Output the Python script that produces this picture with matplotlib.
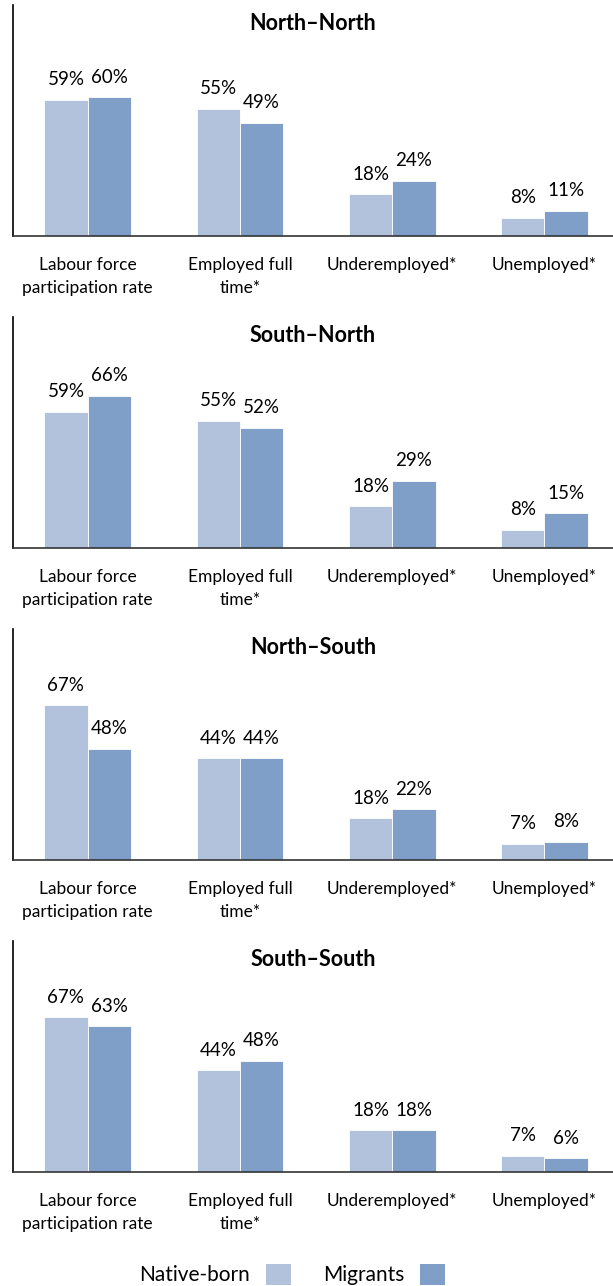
import numpy as np
import matplotlib
matplotlib.use("Agg")
import matplotlib.pyplot as plt
from matplotlib.patches import Patch

plt.rcParams['font.family'] = ['Lato', 'DejaVu Sans']

# data
categories = ["Labour force\nparticipation rate", "Employed full\ntime*", "Underemployed*", "Unemployed*"]
panels = ["North\u2013North", "South\u2013North", "North\u2013South", "South\u2013South"]
native = [
    [59, 55, 18, 8],
    [59, 55, 18, 8],
    [67, 44, 18, 7],
    [67, 44, 18, 7],
]
migrants = [
    [60, 49, 24, 11],
    [66, 52, 29, 15],
    [48, 44, 22, 8],
    [63, 48, 18, 6],
]
series_names = ["Native-born", "Migrants"]
col_native = "#b3c2dc"
col_migr = "#7f9fc8"

W, H = 613, 1286
fig = plt.figure(figsize=(W / 100, H / 100), dpi=100)

x = np.arange(len(categories))
bw = 0.285
for i, title in enumerate(panels):
    top = 5 + 312 * i
    base = 236 + 312 * i
    ax = fig.add_axes([13 / W, 1 - base / H, 600 / W, (base - top) / H])
    b1 = ax.bar(x - bw / 2, native[i], bw, color=col_native, edgecolor="white", linewidth=0.6)
    b2 = ax.bar(x + bw / 2, migrants[i], bw, color=col_migr, edgecolor="white", linewidth=0.6)
    for bars, vals in ((b1, native[i]), (b2, migrants[i])):
        for r, v in zip(bars, vals):
            ax.annotate(f"{v}%", (r.get_x() + r.get_width() / 2, r.get_height()),
                        xytext=(0, 14.5), textcoords="offset points",
                        ha="center", va="center", fontsize=13.5)
    ax.set_ylim(0, 100)
    ax.set_xlim(-0.49, 3.45)
    ax.set_yticks([])
    ax.set_xticks(x)
    ax.set_xticklabels(categories, fontsize=12.5, linespacing=1.55)
    ax.tick_params(axis="x", length=0, pad=15)
    ax.spines["top"].set_visible(False)
    ax.spines["right"].set_visible(False)
    ax.spines["left"].set_linewidth(1.2)
    ax.spines["bottom"].set_linewidth(1.2)
    ax.spines["bottom"].set_color("#333333")
    ax.text(0.5, 1 - 19 / (base - top), title, transform=ax.transAxes,
            ha="center", va="center", fontsize=15.5, fontweight="bold")

handles = [Patch(facecolor=col_native), Patch(facecolor=col_migr)]
fig.legend(handles, series_names, loc="lower center", bbox_to_anchor=(0.477, -0.014),
           ncol=2, frameon=False, markerfirst=False, fontsize=15,
           handlelength=1.2, handleheight=1.2, columnspacing=1.55, handletextpad=0.75)

fig.savefig("out.png", dpi=100)
